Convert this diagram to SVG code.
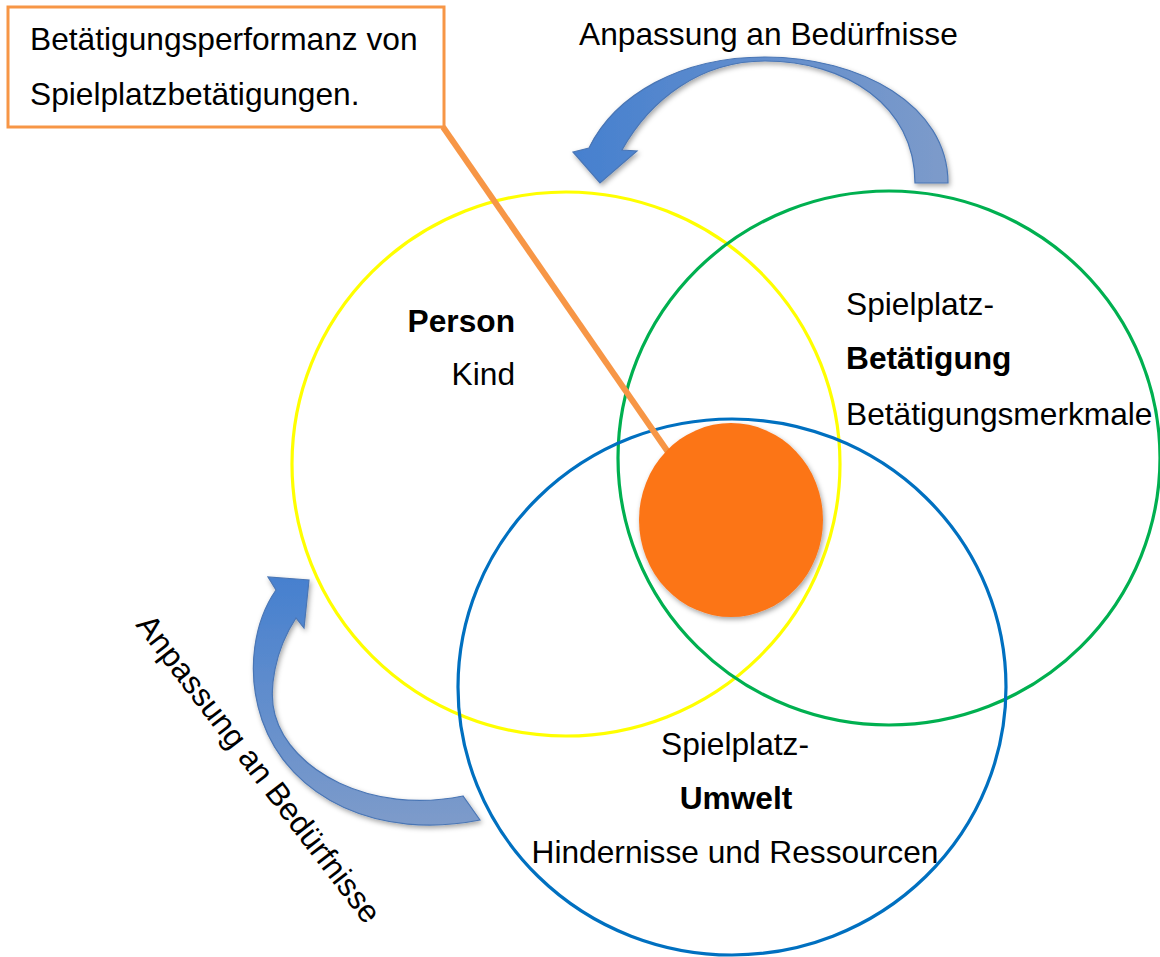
<svg xmlns="http://www.w3.org/2000/svg" width="1160" height="957" viewBox="0 0 1160 957">
<style>
text{font-family:"Liberation Sans",Arial,sans-serif;font-size:31.7px;fill:#000}
.b{font-weight:bold}
.ring{fill:none;stroke-width:3.2}
.arrow{stroke:#4A76B5;stroke-width:1.2}
</style>
<defs>
<linearGradient id="gTop" x1="0" y1="0" x2="1" y2="0">
<stop offset="0" stop-color="#4680CF"/>
<stop offset="1" stop-color="#7D9BCA"/>
</linearGradient>
<linearGradient id="gLeft" x1="0" y1="0" x2="0" y2="1">
<stop offset="0" stop-color="#4680CF"/>
<stop offset="1" stop-color="#7D9BCA"/>
</linearGradient>
<filter id="sh" x="-20%" y="-20%" width="140%" height="140%">
<feDropShadow dx="1.5" dy="2.5" stdDeviation="2.5" flood-color="#000" flood-opacity="0.35"/>
</filter>
</defs>
<rect width="1160" height="957" fill="#fff"/>
<g id="person"><ellipse class="ring" cx="566" cy="464" rx="274" ry="272" stroke="#FFFF00"/>
<text class="b" x="515" y="332" text-anchor="end">Person</text>
<text x="515" y="385" text-anchor="end">Kind</text></g>
<g id="betaetigung"><ellipse class="ring" cx="889" cy="458" rx="271" ry="267" stroke="#00B050"/>
<text x="846" y="315">Spielplatz-</text>
<text class="b" x="846" y="369">Betätigung</text>
<text x="846" y="425">Betätigungsmerkmale</text></g>
<g id="umwelt"><ellipse class="ring" cx="732" cy="687" rx="274" ry="268" stroke="#0070C0"/>
<text x="735" y="755" text-anchor="middle">Spielplatz-</text>
<text class="b" x="736" y="809" text-anchor="middle">Umwelt</text>
<text x="735" y="863" text-anchor="middle">Hindernisse und Ressourcen</text></g>
<g id="connectors">
<line x1="443" y1="127" x2="668" y2="452" stroke="#F79646" stroke-width="6"/>
<path class="arrow" fill="url(#gTop)" filter="url(#sh)" d="M 948,183 C 948,105 860,57 765,57 C 680,57 615,95 589,148 L 573,152 L 600,183 L 637,151 L 622,150 C 650,100 700,61 765,61 C 845,61 915,105 915,183 Z"/>
<path class="arrow" fill="url(#gLeft)" filter="url(#sh)" d="M 309,580 L 304,628 L 296,618 C 275,650 268,690 275,715 C 290,770 370,815 463,796 L 480,820 C 380,840 290,800 262,720 C 245,670 255,620 276,590 L 268,577 Z"/>
</g>
<g id="performanz">
<ellipse cx="731" cy="520" rx="92" ry="97" fill="#FC7519" filter="url(#sh)"/>
</g>
<g id="callout">
<rect x="8" y="7" width="436" height="120" fill="#fff" stroke="#F79646" stroke-width="3"/>
<text x="30" y="50">Betätigungsperformanz von</text>
<text x="30" y="105">Spielplatzbetätigungen.</text>
</g>
<g id="labels">
<text x="579" y="45">Anpassung an Bedürfnisse</text>
<text transform="translate(135,625) rotate(52.5)">Anpassung an Bedürfnisse</text>
</g>
</svg>
